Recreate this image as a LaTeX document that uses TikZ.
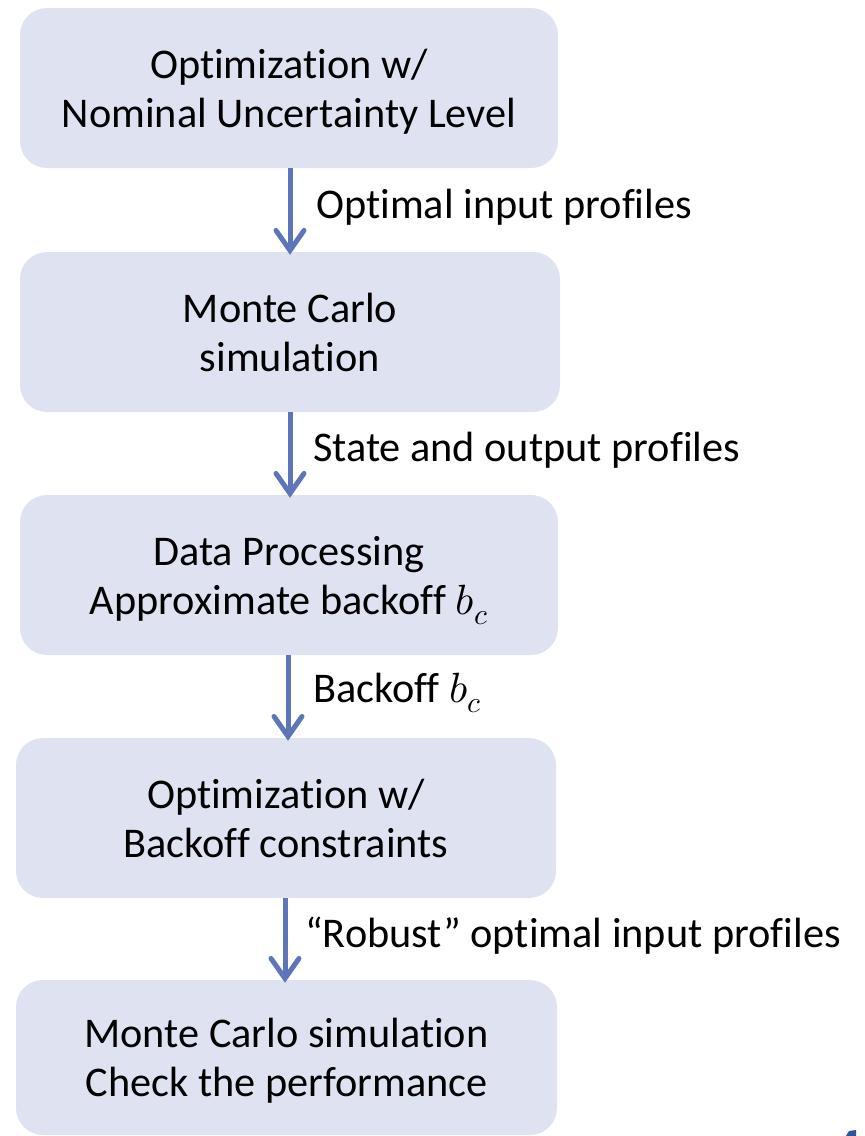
\documentclass[tikz,border=0pt]{standalone}
\usepackage{fontspec}
\usepackage{unicode-math}
\setmainfont{Carlito}[Ligatures=NoCommon]
\setmathfont{Latin Modern Math}
\usetikzlibrary{arrows.meta}
\definecolor{boxfill}{RGB}{223,227,241}
\definecolor{arrowblue}{RGB}{94,117,185}
\definecolor{markblue}{RGB}{47,85,151}
\begin{document}
\begin{tikzpicture}[x=1pt,y=-1pt,
  stagebox/.style={fill=boxfill,draw=none,rounded corners=27pt,align=center,
    font=\fontsize{42.3}{49}\selectfont,inner sep=0pt,text depth=0pt},
  flowarrow/.style={draw=arrowblue,line width=5pt,
    -{Straight Barb[length=20pt,width=28pt,line cap=round]}},
  flowlabel/.style={anchor=west,font=\fontsize{42.3}{49}\selectfont,inner sep=0pt}]
\useasboundingbox (0,0) rectangle (865,1136);
\node[stagebox,minimum width=538pt,minimum height=160pt] (b1) at (289,88)
  {Optimization w/\\Nominal Uncertainty Level};
\node[stagebox,minimum width=540pt,minimum height=160pt] (b2) at (290,332)
  {Monte Carlo\\simulation};
\node[stagebox,minimum width=538pt,minimum height=160pt] (b3) at (289,575)
  {Data Processing\\Approximate backoff $b_c$};
\node[stagebox,minimum width=540pt,minimum height=160pt] (b4) at (286,818)
  {Optimization w/\\Backoff constraints};
\node[stagebox,minimum width=541pt,minimum height=155pt] (b5) at (286.5,1057.5)
  {Monte Carlo simulation\\Check the performance};
\draw[flowarrow] (b1.south -| 290,0) -- ([yshift=-3pt]b2.north -| 290,0);
\draw[flowarrow] (b2.south -| 290,0) -- ([yshift=-3pt]b3.north -| 290,0);
\draw[flowarrow] (b3.south -| 288,0) -- ([yshift=-3pt]b4.north -| 288,0);
\draw[flowarrow] (b4.south -| 285,0) -- ([yshift=-3pt]b5.north -| 285,0);
\node[flowlabel] (l1) at (316,207) {Optimal input profiles};
\node[flowlabel] (l2) at (313,450) {State and output profiles};
\node[flowlabel] (l3) at (313,693) {Backoff $b_c$};
\node[flowlabel] (l4) at (305,936) {“Robust” optimal input profiles};
\fill[markblue] (846,1136) -- (849,1131) -- (856,1130) -- (856,1136) -- cycle;
\end{tikzpicture}
\end{document}
